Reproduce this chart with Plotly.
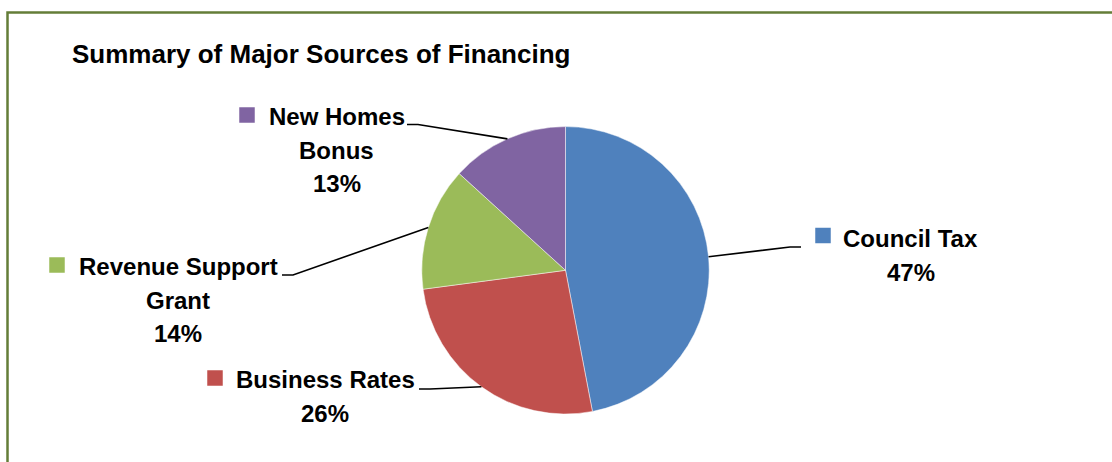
import numpy as np
import plotly.graph_objects as go

# ---- data ----
categories = ["Council Tax", "Business Rates", "Revenue Support Grant", "New Homes Bonus"]
label_lines = [["Council Tax"], ["Business Rates"], ["Revenue Support", "Grant"], ["New Homes", "Bonus"]]
values = [47.0, 25.9, 13.85, 13.25]
colors = ["#4F81BD", "#C0504D", "#9BBB59", "#8064A2"]
title_text = "Summary of Major Sources of Financing"

W, H = 1112, 462
FONT = "Liberation Sans, Arial, sans-serif"

# pie geometry (pixels)
cx, cy, R = 565.5, 270.3, 143.7

fig = go.Figure()
fig.add_trace(go.Pie(
    labels=categories, values=values, sort=False, direction="clockwise", rotation=0,
    marker=dict(colors=colors, line=dict(color="rgba(255,255,255,0.6)", width=0.8)),
    textinfo="none", hoverinfo="label+percent", showlegend=False,
    domain=dict(x=[(cx - R) / W, (cx + R) / W], y=[(H - cy - R) / H, (H - cy + R) / H]),
))

# invisible pixel axes for overlays
fig.add_trace(go.Scatter(x=[0, W], y=[0, H], mode="markers", marker=dict(opacity=0),
                         hoverinfo="skip", showlegend=False))

layout_pos = {
    "Council Tax": dict(tx=910.5, ty=238.2, sq=(823, 235.5), elbow=(790, 247), end=(801, 247)),
    "Business Rates": dict(tx=325, ty=379.5, sq=(215, 378), elbow=(430, 389), end=(419, 389)),
    "Revenue Support Grant": dict(tx=178, ty=266.2, sq=(57, 265), elbow=(293, 275), end=(282, 275)),
    "New Homes Bonus": dict(tx=336.5, ty=116.2, sq=(247, 115), elbow=(418, 124.5), end=(407, 124.5)),
}
LS = 33.8
SQ = 15.5

total = sum(values)
cum = np.cumsum([0] + values)
shapes = []
annotations = []
for i, cat in enumerate(categories):
    p = layout_pos[cat]
    pct = round(values[i] / total * 100)
    lines = label_lines[i] + [f"{pct}%"]
    for j, t in enumerate(lines):
        annotations.append(dict(
            x=p["tx"], y=p["ty"] + j * LS, xref="x", yref="y", text=t, showarrow=False,
            xanchor="center", yanchor="middle",
            font=dict(family=FONT, size=24, color="#000000", weight="bold")))
    sx, sy = p["sq"]
    shapes.append(dict(type="rect", xref="x", yref="y", x0=sx - SQ / 2, x1=sx + SQ / 2,
                       y0=sy - SQ / 2, y1=sy + SQ / 2, fillcolor=colors[i], line=dict(width=0)))
    mid = (cum[i] + values[i] / 2) / total * 2 * np.pi
    px, py = cx + R * np.sin(mid), cy - R * np.cos(mid)
    ex, ey = p["elbow"]
    fx, fy = p["end"]
    shapes.append(dict(type="path", xref="x", yref="y",
                       path=f"M {px:.2f} {py:.2f} L {ex} {ey} L {fx} {fy}",
                       line=dict(color="#000000", width=1.6)))

# outer frame
shapes.append(dict(type="rect", xref="x", yref="y", x0=7.5, y0=12.5, x1=W + 20, y1=H + 20,
                   line=dict(color="#647D38", width=2.5), fillcolor="rgba(0,0,0,0)", layer="below"))

annotations.append(dict(x=70, y=54, xref="x", yref="y", text=title_text, showarrow=False,
                        xanchor="left", yanchor="middle",
                        font=dict(family=FONT, size=26, color="#000000", weight="bold")))

fig.update_layout(
    width=W, height=H, margin=dict(l=0, r=0, t=0, b=0),
    paper_bgcolor="white", plot_bgcolor="rgba(0,0,0,0)",
    xaxis=dict(range=[0, W], visible=False, fixedrange=True, domain=[0, 1]),
    yaxis=dict(range=[H, 0], visible=False, fixedrange=True, domain=[0, 1]),
    shapes=shapes, annotations=annotations,
)

fig.write_html("out.html", config={"displayModeBar": False},
               post_script="document.body.style.margin='0';document.body.style.overflow='hidden';")
